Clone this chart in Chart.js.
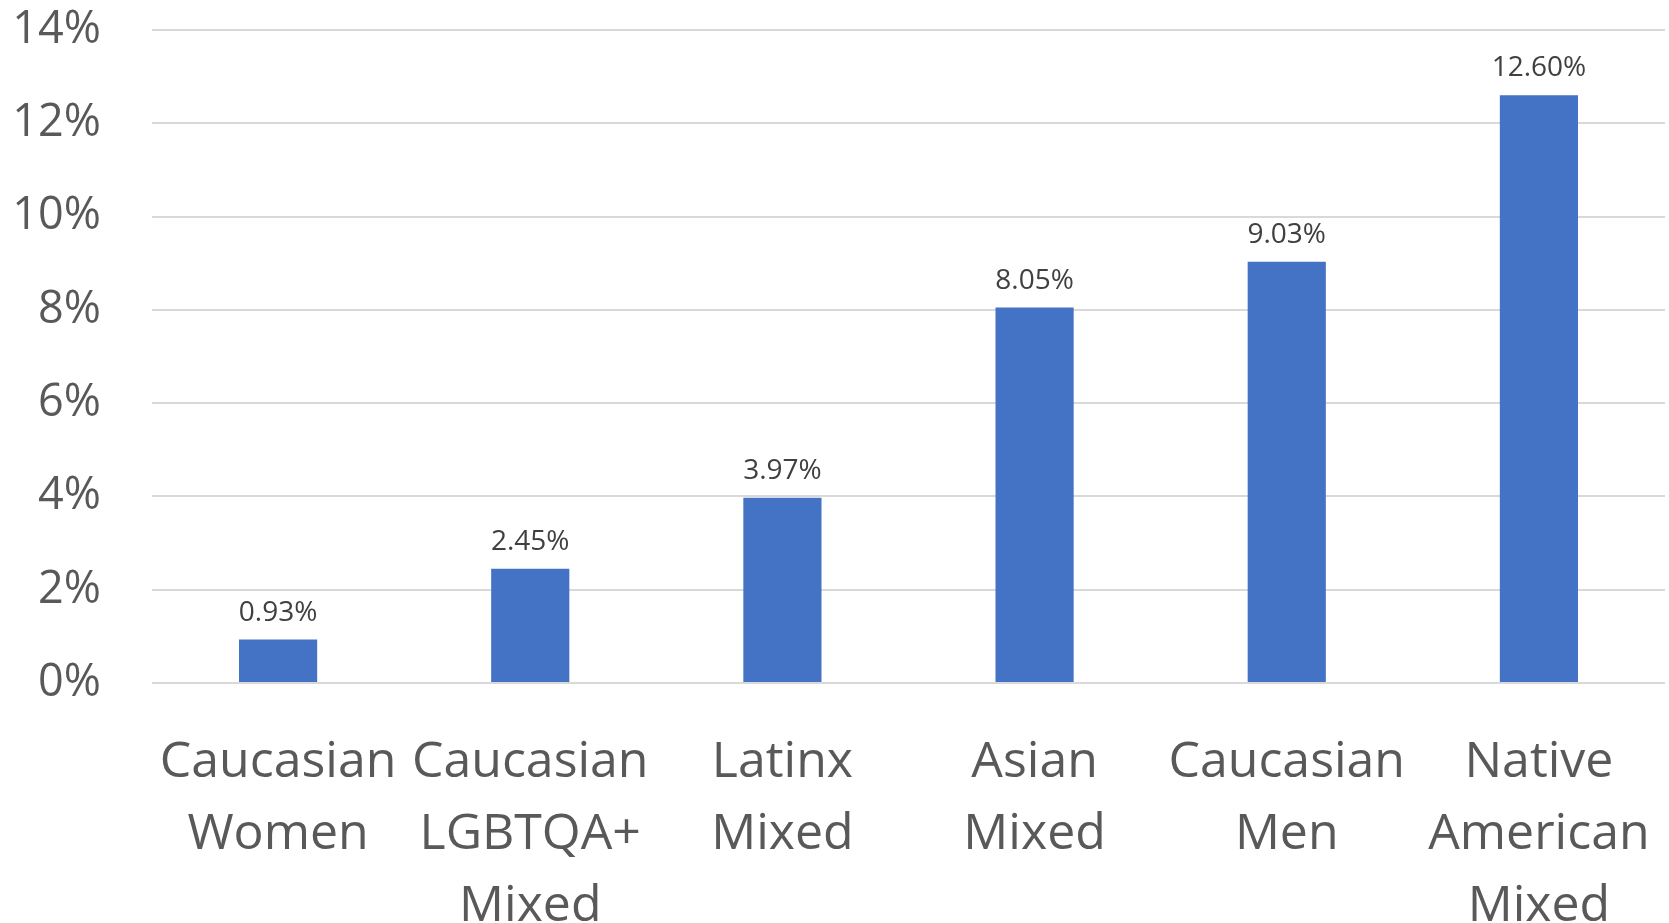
<!DOCTYPE html>
<html>
<head>
<meta charset="utf-8">
<script src="https://cdn.jsdelivr.net/npm/chart.js@4.4.0/dist/chart.umd.min.js"></script>
<style>
  html, body { margin: 0; padding: 0; background: #fff; }
  #wrap { width: 1669px; height: 923px; position: relative; }
</style>
</head>
<body>
<div id="wrap"><canvas id="barChart"></canvas></div>
<script>
// Dados do gráfico
const categories = [
  ['Caucasian', 'Women'],
  ['Caucasian', 'LGBTQA+', 'Mixed'],
  ['Latinx', 'Mixed'],
  ['Asian', 'Mixed'],
  ['Caucasian', 'Men'],
  ['Native', 'American', 'Mixed']
];
const values = [0.93, 2.45, 3.97, 8.05, 9.03, 12.60];
const yTicks = [0, 2, 4, 6, 8, 10, 12, 14];

const fontFamily = '"Open Sans", "Noto Sans", sans-serif';

// rótulos de valor em cima das barras
const valueLabels = {
  id: 'valueLabels',
  afterDatasetsDraw(chart) {
    const ctx = chart.ctx;
    const meta = chart.getDatasetMeta(0);
    ctx.save();
    ctx.font = '28px ' + fontFamily;
    ctx.fillStyle = '#404040';
    ctx.textAlign = 'center';
    ctx.textBaseline = 'alphabetic';
    meta.data.forEach((bar, i) => {
      ctx.fillText(values[i].toFixed(2) + '%', bar.x, bar.y - 19);
    });
    ctx.restore();
  }
};

const ctx = document.getElementById('barChart').getContext('2d');
const myBarChart = new Chart(ctx, {
  type: 'bar',
  data: {
    labels: categories,
    datasets: [{
      data: values,
      backgroundColor: '#4472C4',
      barPercentage: 0.62,
      categoryPercentage: 0.5
    }]
  },
  options: {
    responsive: true,
    maintainAspectRatio: false,
    animation: false,
    layout: { padding: { top: 30, right: 4, left: 0, bottom: 0 } },
    plugins: {
      legend: { display: false },
      tooltip: { enabled: false }
    },
    scales: {
      x: {
        // marca invisível só para afastar os rótulos do eixo
        grid: { display: false, drawTicks: true, tickLength: 44, tickColor: 'rgba(0,0,0,0)' },
        border: { display: false },
        ticks: {
          color: '#595959',
          font: { family: fontFamily, size: 50, lineHeight: 1.44 },
          padding: 0,
          maxRotation: 0,
          minRotation: 0,
          autoSkip: false
        },
        afterFit(scale) { scale.height = 240; }
      },
      y: {
        min: 0,
        max: 14,
        grid: { color: '#D9D9D9', lineWidth: 2, drawTicks: true, tickLength: 51, tickColor: 'rgba(0,0,0,0)' },
        border: { display: false },
        afterBuildTicks(scale) {
          scale.ticks = yTicks.map(v => ({ value: v }));
        },
        ticks: {
          color: '#595959',
          font: { family: fontFamily, size: 45 },
          padding: 0,
          callback: v => v + '%'
        },
        afterFit(scale) { scale.width = 152; }
      }
    }
  },
  plugins: [valueLabels]
});
</script>
</body>
</html>
